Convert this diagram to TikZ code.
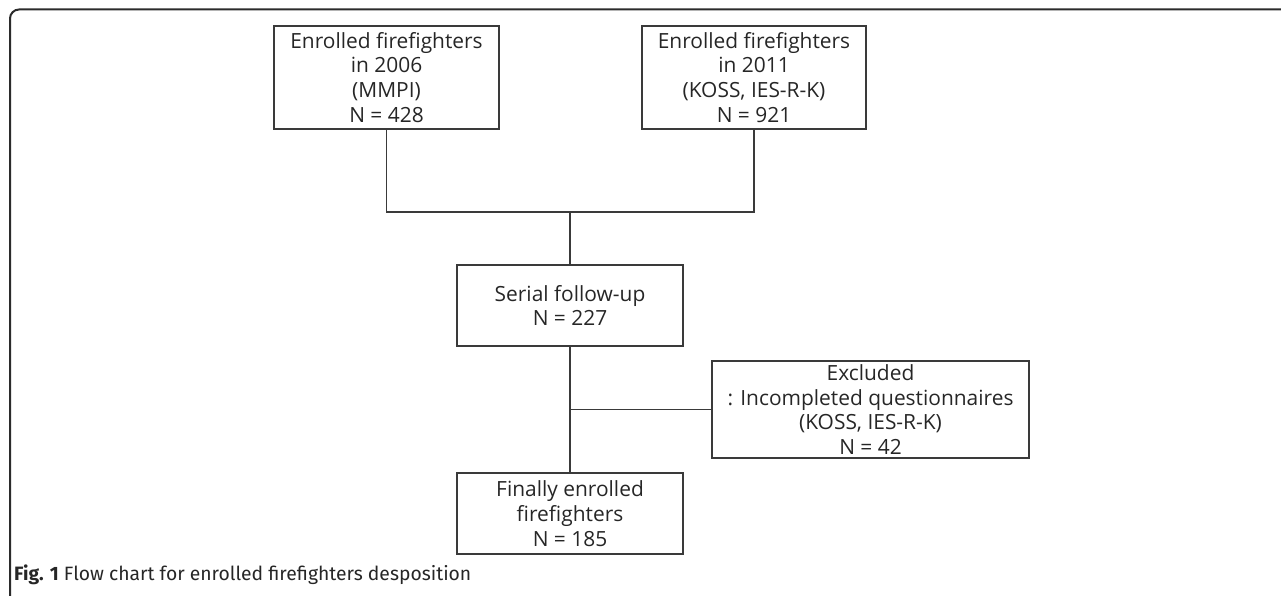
\documentclass[tikz,border=0pt]{standalone}
\usepackage{fontspec}
\setmainfont{Open Sans}
\newfontfamily\capfont{Fira Sans}
\definecolor{framegray}{HTML}{2B2B2B}
\definecolor{boxgray}{HTML}{3A3A3A}
\tikzset{
  flowbox/.style={draw=boxgray,line width=1.6bp,align=center,inner sep=0pt,
    font=\fontsize{21}{25}\selectfont,text=black!85},
  flowline/.style={draw=boxgray,line width=1.6bp},
}
\begin{document}
\begin{tikzpicture}[x=1bp,y=-1bp,line join=miter]
\useasboundingbox (0,0) rectangle (1281,596);
%% frame
\draw [framegray,line width=2bp,rounded corners=9bp] (10,597) -- (10,9.5) -- (1282,9.5);
%%
\node (node_0) at (386.5bp,-77.5bp) [flowbox,minimum width=225bp,minimum height=103bp] {Enrolled firefighters\\in 2006\\(MMPI)\\N = 428};
  \node (node_1) at (754.0bp,-77.5bp) [flowbox,minimum width=224bp,minimum height=103bp] {Enrolled firefighters\\in 2011\\(KOSS, IES-R-K)\\N = 921};
  \node (node_2) at (570.0bp,-305.5bp) [flowbox,minimum width=226bp,minimum height=81bp] {Serial follow-up\\N = 227};
  \node (node_3) at (870.5bp,-409.5bp) [flowbox,minimum width=317bp,minimum height=97bp] {Excluded\\: Incompleted questionnaires\\(KOSS, IES-R-K)\\N = 42};
  \node (node_4) at (570.0bp,-513.5bp) [flowbox,minimum width=226bp,minimum height=81bp] {Finally enrolled\\firefighters\\N = 185};
  \coordinate (join) at (570bp,-212bp);
  \draw [flowline] (node_0.south) -- (node_0.south |- join) -- (node_1.south |- join) -- (node_1.south);
  \draw [flowline] (join) -- (node_2.north);
  \draw [flowline] (node_2.south) -- (node_4.north);
  \draw [flowline] (node_2.south |- node_3.west) -- (node_3.west);
%
\node (caption) at (14bp,-580bp) [anchor=base west,inner sep=0pt,font=\capfont\fontsize{19.4}{21}\selectfont,text=black!85] {\textbf{Fig. 1} Flow chart for enrolled firefighters desposition};
\end{tikzpicture}
\end{document}
